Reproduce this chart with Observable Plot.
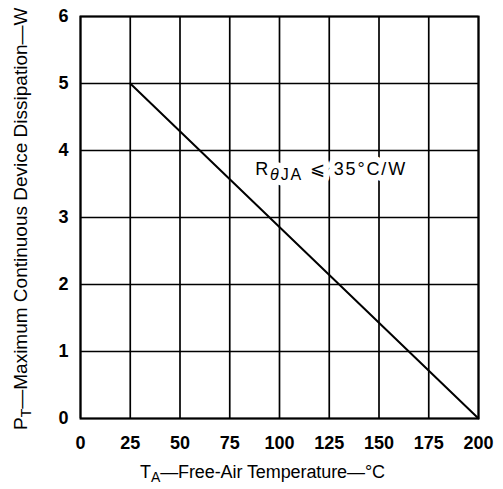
<!DOCTYPE html>
<html>
<head>
<meta charset="utf-8">
<script src="https://cdn.jsdelivr.net/npm/d3@7"></script>
<script src="https://cdn.jsdelivr.net/npm/@observablehq/plot@0.6"></script>
<style>
  html, body { margin: 0; padding: 0; background: #fff; }
  #chart { position: relative; width: 503px; height: 489px; }
  svg text { font-family: "Liberation Sans", Arial, Helvetica, sans-serif; }
  #ytitle {
    position: absolute; left: 11px; top: 430px;
    transform: rotate(-90deg); transform-origin: 0 0;
    white-space: nowrap; font: 19px "Liberation Sans", Arial, Helvetica, sans-serif;
    line-height: 1; color: #000;
  }
  #ytitle .sub { font-size: 14px; position: relative; top: 4px; }
</style>
</head>
<body>
<div id="chart"></div>
<script>
// Data
const temperature = [25, 200];          // °C
const dissipation = [5, 0];             // W
const xTicks = [0, 25, 50, 75, 100, 125, 150, 175, 200];
const yTicks = [0, 1, 2, 3, 4, 5, 6];
const annotationX = [125.5];
const annotationY = [3.72];
const annotationText = ["RθJA ⩽ 35°C/W"];

const lineData = temperature.map((t, i) => ({t, p: dissipation[i]}));
const annData = annotationX.map((x, i) => ({x, y: annotationY[i], label: annotationText[i]}));

const plot = Plot.plot({
  width: 503,
  height: 489,
  marginLeft: 80,
  marginRight: 25,
  marginTop: 16,
  marginBottom: 71,
  x: {domain: [0, 200]},
  y: {domain: [0, 6]},
  style: {background: "#fff", color: "#000"},
  marks: [
    Plot.ruleX(xTicks, {stroke: "#000", strokeWidth: 1.7}),
    Plot.ruleY(yTicks, {stroke: "#000", strokeWidth: 1.7}),
    Plot.frame({stroke: "#000", strokeWidth: 2}),
    Plot.line(lineData, {x: "t", y: "p", stroke: "#000", strokeWidth: 2}),
    // white halo behind the label (hides the grid, as in the reference)
    Plot.text(annData, {x: "x", y: "y", text: "label", fontSize: 18, fill: "#fff",
      stroke: "#fff", strokeWidth: 12, className: "annhalo"}),
    Plot.text(annData, {x: "x", y: "y", text: "label", fontSize: 18, fill: "#000", className: "ann"}),
    Plot.axisX({ticks: xTicks, tickSize: 0, tickPadding: 18, fontSize: 18, fontWeight: "bold", label: null, tickFormat: d => String(d)}),
    Plot.axisY({ticks: yTicks, tickSize: 0, tickPadding: 12, fontSize: 18, fontWeight: "bold", label: null, tickFormat: d => String(d)})
  ]
});
const chart = document.getElementById("chart");
chart.appendChild(plot);

const svg = d3.select(plot);

// annotation with subscripts (both halo and label)
svg.selectAll("g.annhalo text, g.ann text").each(function() {
  const t = d3.select(this);
  t.text(null).attr("textLength", 150).attr("lengthAdjust", "spacing");
  t.append("tspan").text("R");
  t.append("tspan").attr("font-style", "italic").attr("font-size", 16).attr("baseline-shift", "-5").text("θ");
  t.append("tspan").attr("font-size", 16).attr("baseline-shift", "-5").text("JA");
  t.append("tspan").text(" ⩽ 35°C/W");
});

// x-axis title
const xt = svg.append("text")
  .attr("x", 140).attr("y", 478)
  .attr("text-anchor", "start")
  .attr("font-size", 18)
  .attr("fill", "#000")
  .attr("textLength", 245).attr("lengthAdjust", "spacing");
xt.append("tspan").text("T");
xt.append("tspan").attr("font-size", 14).attr("baseline-shift", "-4").text("A");
xt.append("tspan").text("—Free-Air Temperature—°C");

// y-axis title (HTML overlay, rotated)
const yt = document.createElement("div");
yt.id = "ytitle";
yt.innerHTML = 'P<span class="sub">T</span>—Maximum Continuous Device Dissipation—W';
chart.appendChild(yt);
</script>
</body>
</html>
